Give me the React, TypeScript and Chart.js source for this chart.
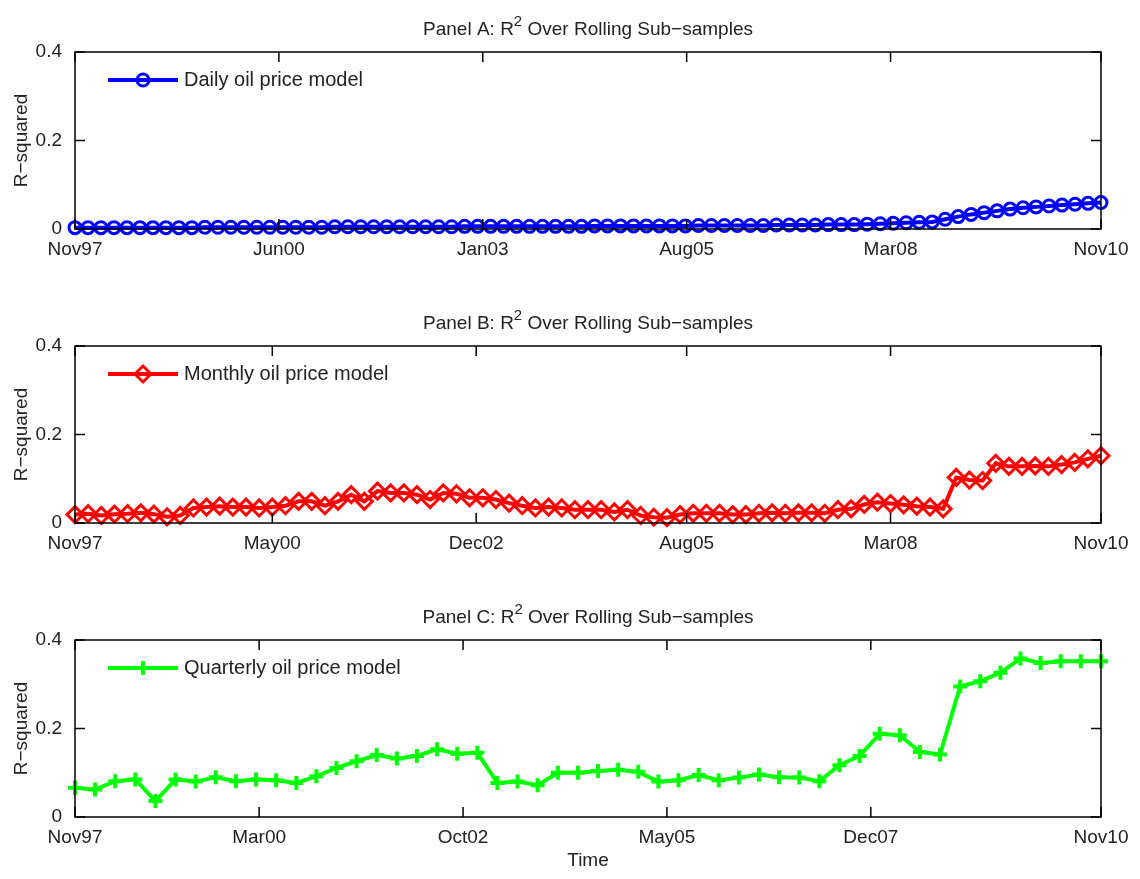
import React, { useEffect, useRef } from "react";
import { Chart, registerables } from "chart.js";
Chart.register(...registerables);

const SPAN_MONTHS = 156;

const dailyValues = [
  0.003,0.003,0.003,0.003,0.003,0.003,0.003,0.003,0.003,0.003,
  0.004,0.004,0.004,0.004,0.004,0.004,0.004,0.004,0.004,0.004,
  0.005,0.005,0.005,0.005,0.005,0.005,0.005,0.005,0.005,0.005,
  0.006,0.006,0.006,0.006,0.006,0.006,0.006,0.006,0.006,0.006,
  0.007,0.007,0.007,0.007,0.007,0.007,0.007,0.007,
  0.008,0.008,0.008,0.008,0.008,0.008,
  0.009,0.009,0.009,0.009,
  0.010,0.010,0.010,
  0.011,0.012,0.013,0.014,0.015,0.016,
  0.022,0.028,0.033,0.037,0.041,0.045,0.048,0.050,0.052,0.054,0.056,0.058,0.060,
];

const monthlyValues = [
  0.019,0.021,0.017,0.020,0.021,0.023,0.020,0.014,0.017,0.034,
  0.036,0.038,0.036,0.036,0.034,0.036,0.039,0.049,0.049,0.039,
  0.049,0.064,0.049,0.072,0.068,0.068,0.064,0.053,0.068,0.066,
  0.057,0.057,0.053,0.045,0.039,0.034,0.036,0.034,0.030,
  0.030,0.030,0.025,0.030,0.017,0.013,0.012,0.019,0.022,0.022,
  0.022,0.019,0.019,0.022,0.023,0.022,0.023,0.023,0.022,0.030,
  0.032,0.042,0.047,0.044,0.041,0.038,0.036,0.032,0.103,0.097,
  0.096,0.135,0.128,0.128,0.129,0.128,0.132,0.137,0.145,0.152,
];

const quarterlyValues = [
  0.066,0.062,0.081,0.085,0.036,0.085,0.080,0.090,0.081,0.085,
  0.083,0.077,0.092,0.111,0.126,0.140,0.132,0.138,0.153,0.143,
  0.145,0.077,0.080,0.072,0.100,0.100,
  0.104,0.107,0.102,0.080,0.083,0.095,0.083,0.089,0.096,0.090,
  0.089,0.081,0.117,0.138,0.188,0.185,0.147,0.141,0.295,0.307,
  0.326,0.358,0.348,0.352,0.352,0.352,
];

const tickMonths = [
  [0, 31, 62, 93, 124, 156],
  [0, 30, 61, 93, 124, 156],
  [0, 28, 59, 90, 121, 156],
];
const tickLabels = [
  ["Nov97", "Jun00", "Jan03", "Aug05", "Mar08", "Nov10"],
  ["Nov97", "May00", "Dec02", "Aug05", "Mar08", "Nov10"],
  ["Nov97", "Mar00", "Oct02", "May05", "Dec07", "Nov10"],
];
const yTicks = [0, 0.2, 0.4];
const panelLetters = ["A", "B", "C"];
const seriesNames = ["Daily oil price model", "Monthly oil price model", "Quarterly oil price model"];
const colors = ["#0000ff", "#ff0000", "#00ff00"];
const FONT = "'Liberation Sans', Arial, sans-serif";

function drawMarker(ctx: CanvasRenderingContext2D, kind: number, x: number, y: number, r: number) {
  ctx.beginPath();
  if (kind === 0) {
    ctx.arc(x, y, r, 0, Math.PI * 2);
  } else if (kind === 1) {
    ctx.moveTo(x, y - r); ctx.lineTo(x + r, y); ctx.lineTo(x, y + r); ctx.lineTo(x - r, y); ctx.closePath();
  } else {
    ctx.moveTo(x - r, y); ctx.lineTo(x + r, y); ctx.moveTo(x, y - r); ctx.lineTo(x, y + r);
  }
  ctx.stroke();
}

function Panel({ idx, top, height }: { idx: number; top: number; height: number }) {
  const ref = useRef<HTMLCanvasElement>(null);
  useEffect(() => {
    const values = [dailyValues, monthlyValues, quarterlyValues][idx];
    const n = values.length;
    const data = values.map((v, i) => ({ x: (i * SPAN_MONTHS) / (n - 1), y: v }));
    const color = colors[idx];
    const pointStyle = ["circle", "rectRot", "cross"][idx] as any;
    const radius = [6, 8, 7][idx];
    const pbw = [3, 3, 4][idx];
    const ticks = tickMonths[idx];
    const labels = tickLabels[idx];

    const deco = {
      id: "deco",
      afterDraw(chart: any) {
        const { ctx, chartArea: a } = chart;
        const xs = chart.scales.x, ys = chart.scales.y;
        ctx.save();
        ctx.strokeStyle = "#000";
        ctx.lineWidth = 1.5;
        ctx.strokeRect(a.left, a.top, a.right - a.left, a.bottom - a.top);
        ctx.beginPath();
        ticks.forEach((t) => {
          const px = xs.getPixelForValue(t);
          ctx.moveTo(px, a.bottom); ctx.lineTo(px, a.bottom - 10);
          ctx.moveTo(px, a.top); ctx.lineTo(px, a.top + 10);
        });
        yTicks.forEach((t) => {
          const py = ys.getPixelForValue(t);
          ctx.moveTo(a.left, py); ctx.lineTo(a.left + 10, py);
          ctx.moveTo(a.right, py); ctx.lineTo(a.right - 10, py);
        });
        ctx.stroke();
        ctx.fillStyle = "#222";
        ctx.textBaseline = "alphabetic";
        const p1 = `Panel ${panelLetters[idx]}: R`;
        const p3 = " Over Rolling Sub\u2212samples";
        ctx.font = `19px ${FONT}`;
        const w1 = ctx.measureText(p1).width;
        const w3 = ctx.measureText(p3).width;
        ctx.font = `15px ${FONT}`;
        const w2 = ctx.measureText("2").width;
        const cx = (a.left + a.right) / 2;
        const sx = cx - (w1 + w2 + w3) / 2;
        const by = a.top - 17;
        ctx.font = `19px ${FONT}`;
        ctx.textAlign = "left";
        ctx.fillText(p1, sx, by);
        ctx.font = `15px ${FONT}`;
        ctx.fillText("2", sx + w1, by - 9);
        ctx.font = `19px ${FONT}`;
        ctx.fillText(p3, sx + w1 + w2, by);
        const ly = a.top + 28;
        ctx.strokeStyle = color;
        ctx.lineWidth = 4;
        ctx.beginPath();
        ctx.moveTo(a.left + 33, ly); ctx.lineTo(a.left + 103, ly);
        ctx.stroke();
        ctx.lineWidth = pbw;
        drawMarker(ctx, idx, a.left + 68, ly, radius);
        ctx.fillStyle = "#222";
        ctx.textBaseline = "middle";
        ctx.font = `20px ${FONT}`;
        ctx.fillText(seriesNames[idx], a.left + 109, ly);
        if (idx === 2) {
          ctx.textAlign = "center";
          ctx.font = `19px ${FONT}`;
          ctx.fillText("Time", cx, a.bottom + 44);
        }
        ctx.restore();
      },
    };

    const chart = new Chart(ref.current!, {
      type: "scatter",
      data: {
        datasets: [{
          data,
          showLine: true,
          borderColor: color,
          borderWidth: 4,
          pointStyle,
          pointRadius: radius,
          pointBorderWidth: pbw,
          pointBorderColor: color,
          pointBackgroundColor: "rgba(0,0,0,0)",
          clip: false as any,
        }],
      },
      options: {
        animation: false,
        responsive: false,
        events: [],
        layout: { padding: { top: 52, right: 39, left: 0, bottom: 0 } },
        plugins: { legend: { display: false }, tooltip: { enabled: false } },
        scales: {
          x: {
            type: "linear",
            min: 0,
            max: SPAN_MONTHS,
            grid: { display: false },
            border: { display: false },
            afterBuildTicks: (s: any) => { s.ticks = ticks.map((v) => ({ value: v })); },
            afterFit: (s: any) => { s.height = height - 52 - 177; },
            ticks: {
              autoSkip: false,
              maxRotation: 0,
              padding: 1,
              color: "#222",
              font: { size: 19, family: FONT },
              callback: (v: any) => labels[ticks.indexOf(v)] ?? "",
            },
          },
          y: {
            min: 0,
            max: 0.4,
            grid: { display: false },
            border: { display: false },
            afterBuildTicks: (s: any) => { s.ticks = yTicks.map((v) => ({ value: v })); },
            afterFit: (s: any) => { s.width = 75; },
            title: { display: true, text: "R\u2212squared", color: "#222", font: { size: 19, family: FONT }, padding: { top: 10, bottom: 0 } },
            ticks: {
              padding: 5,
              color: "#222",
              font: { size: 19, family: FONT },
              callback: (v: any) => (v === 0 ? "0" : String(v)),
            },
          },
        },
      },
      plugins: [deco],
    });
    return () => chart.destroy();
  }, [idx, height]);
  return (
    <canvas ref={ref} width={1140} height={height}
      style={{ position: "absolute", left: 0, top, width: 1140, height }} />
  );
}

export default function App() {
  useEffect(() => { document.body.style.margin = "0"; }, []);
  return (
    <div style={{ position: "relative", width: 1140, height: 879, background: "#fff", overflow: "hidden" }}>
      <Panel idx={0} top={0} height={293} />
      <Panel idx={1} top={294} height={293} />
      <Panel idx={2} top={588} height={291} />
    </div>
  );
}
